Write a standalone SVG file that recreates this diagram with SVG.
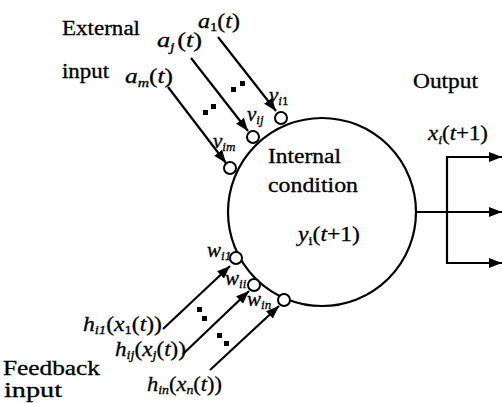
<svg xmlns="http://www.w3.org/2000/svg" width="502" height="403" viewBox="0 0 502 403">
<style>
.t{font-family:"Liberation Serif","Times New Roman",serif;font-size:20px;fill:#000;stroke:#000;stroke-width:0.3}
.m{font-family:"Liberation Serif","Times New Roman",serif;font-size:21px;font-style:italic;fill:#000;stroke:#000;stroke-width:0.3}
.s{font-size:13px}
.u{font-style:normal}
.ln{stroke:#000;stroke-width:2.2;fill:none}
.sc{fill:#fff;stroke:#000;stroke-width:2}
.dot{fill:#000}
</style>
<defs>
<marker id="ah" markerUnits="userSpaceOnUse" markerWidth="14" markerHeight="10" refX="13" refY="5" orient="auto">
<path d="M0,0 L13,5 L0,10 z" fill="#000"/>
</marker>
</defs>
<rect width="502" height="403" fill="#fff"/>

<g id="labels">
<text class="t" x="62" y="35" textLength="78" lengthAdjust="spacingAndGlyphs">External</text>
<text class="t" x="62" y="78" textLength="47" lengthAdjust="spacingAndGlyphs">input</text>
<text class="t" x="413" y="88" textLength="65" lengthAdjust="spacingAndGlyphs">Output</text>
<text class="t" x="3" y="375" textLength="97" lengthAdjust="spacingAndGlyphs">Feedback</text>
<text class="t" x="4" y="397" textLength="58" lengthAdjust="spacingAndGlyphs">input</text>
</g>

<g id="connectors">
<line class="ln" x1="218" y1="37" x2="276" y2="111" marker-end="url(#ah)"/>
<line class="ln" x1="191" y1="58" x2="248" y2="131" marker-end="url(#ah)"/>
<line class="ln" x1="168" y1="87" x2="226" y2="163" marker-end="url(#ah)"/>
<line class="ln" x1="163" y1="329" x2="230" y2="266" marker-end="url(#ah)"/>
<line class="ln" x1="183" y1="354" x2="249" y2="291" marker-end="url(#ah)"/>
<line class="ln" x1="210" y1="370" x2="279" y2="306" marker-end="url(#ah)"/>
<line class="ln" x1="416" y1="212" x2="502" y2="212" marker-end="url(#ah)"/>
<line class="ln" x1="447" y1="156" x2="447" y2="264"/>
<line class="ln" x1="446" y1="157" x2="502" y2="157" marker-end="url(#ah)"/>
<line class="ln" x1="446" y1="263" x2="502" y2="263" marker-end="url(#ah)"/>
<rect class="dot" x="231" y="87" width="5" height="5"/>
<rect class="dot" x="240" y="81" width="5" height="5"/>
<rect class="dot" x="203" y="110" width="5" height="5"/>
<rect class="dot" x="211" y="104" width="5" height="5"/>
<rect class="dot" x="197" y="307" width="5" height="5"/>
<rect class="dot" x="202" y="316" width="5" height="5"/>
<rect class="dot" x="217" y="333" width="5" height="5"/>
<rect class="dot" x="224" y="341" width="5" height="5"/>
</g>

<g id="neuron">
<circle class="ln" cx="322" cy="212" r="94"/>
<text class="t" x="268" y="163" textLength="73" lengthAdjust="spacingAndGlyphs">Internal</text>
<text class="t" x="268" y="192" textLength="90" lengthAdjust="spacingAndGlyphs">condition</text>
<text class="m" x="298" y="241" textLength="62" lengthAdjust="spacingAndGlyphs">y<tspan class="s u" dy="4">i</tspan><tspan class="u" dy="-4">(</tspan>t<tspan class="u">+1)</tspan></text>
</g>

<g id="weights">
<text class="m" x="269" y="102" font-size="18">v<tspan class="s" dy="3">i</tspan><tspan class="s u">1</tspan></text>
<text class="m" x="247" y="121" font-size="18">v<tspan class="s" dy="3">ij</tspan></text>
<text class="m" x="213" y="148" font-size="18">v<tspan class="s" dy="3">im</tspan></text>
<circle class="sc" cx="281" cy="118" r="6"/>
<circle class="sc" cx="253" cy="137" r="6"/>
<circle class="sc" cx="230" cy="168" r="6"/>
<text class="m" x="207" y="257" font-size="18">w<tspan class="s" dy="3">i1</tspan></text>
<text class="m" x="225" y="285" font-size="18">w<tspan class="s" dy="3">ii</tspan></text>
<text class="m" x="247" y="306" font-size="18">w<tspan class="s" dy="3">in</tspan></text>
<circle class="sc" cx="236" cy="258" r="6"/>
<circle class="sc" cx="254" cy="285" r="6"/>
<circle class="sc" cx="284" cy="300" r="6"/>
</g>

<g id="inputs">
<text class="m" x="198" y="28" textLength="42" lengthAdjust="spacingAndGlyphs">a<tspan class="s u" dy="3">1</tspan><tspan class="u" dy="-3">(</tspan>t<tspan class="u">)</tspan></text>
<text class="m" x="157" y="47" textLength="45" lengthAdjust="spacingAndGlyphs">a<tspan class="s" dy="4">j</tspan><tspan class="u" dx="2" dy="-4">(</tspan>t<tspan class="u">)</tspan></text>
<text class="m" x="125" y="83" textLength="48" lengthAdjust="spacingAndGlyphs">a<tspan class="s" dy="4">m</tspan><tspan class="u" dy="-4">(</tspan>t<tspan class="u">)</tspan></text>
<text class="m" x="83" y="331" font-size="19" textLength="79" lengthAdjust="spacingAndGlyphs">h<tspan class="s" dy="3">i1</tspan><tspan class="u" dy="-3">(</tspan>x<tspan class="s u" dy="3">1</tspan><tspan class="u" dy="-3">(</tspan>t<tspan class="u">))</tspan></text>
<text class="m" x="115" y="356" font-size="19" textLength="71" lengthAdjust="spacingAndGlyphs">h<tspan class="s" dy="3">ij</tspan><tspan class="u" dy="-3">(</tspan>x<tspan class="s" dy="3">j</tspan><tspan class="u" dy="-3">(</tspan>t<tspan class="u">))</tspan></text>
<text class="m" x="147" y="391" font-size="19" textLength="75" lengthAdjust="spacingAndGlyphs">h<tspan class="s" dy="3">in</tspan><tspan class="u" dy="-3">(</tspan>x<tspan class="s" dy="3">n</tspan><tspan class="u" dy="-3">(</tspan>t<tspan class="u">))</tspan></text>
</g>

<g id="output">
<text class="m" x="428" y="140" textLength="60" lengthAdjust="spacingAndGlyphs">x<tspan class="s" dy="4">i</tspan><tspan class="u" dy="-4">(</tspan>t<tspan class="u">+1)</tspan></text>
</g>
</svg>
